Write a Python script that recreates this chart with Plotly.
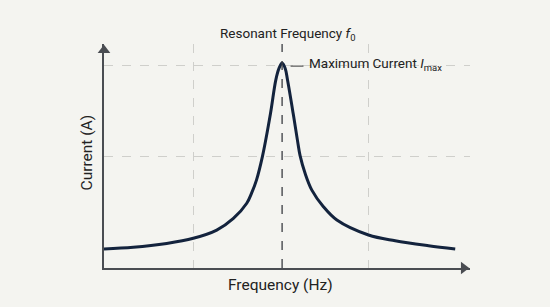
import plotly.graph_objects as go

# Data (frequency in arbitrary units, current normalized)
freq = [0.0, 0.329, 0.704, 1.003, 1.266, 1.453, 1.603, 1.656, 1.712, 1.780, 1.870, 1.929, 1.966, 2.0,
        2.034, 2.061, 2.124, 2.172, 2.202, 2.258, 2.334, 2.464, 2.615, 2.970, 3.270, 3.644, 3.944]
current = [0.093, 0.101, 0.120, 0.145, 0.185, 0.242, 0.316, 0.364, 0.429, 0.546, 0.755, 0.917, 0.975, 1.0,
           0.975, 0.917, 0.755, 0.624, 0.548, 0.462, 0.380, 0.299, 0.234, 0.161, 0.133, 0.109, 0.093]
f0 = 2.0
i_max = 1.0
x_grid = [1, 2.966]
y_grid = [0.546, 0.99]

XMAX = 4.11
YMAX = 1.093
PLOT_W = 550 - 104 - 80
PLOT_H = 307 - 44 - 39
axis_col = "#4a4d52"
bg = "#f4f4f0"
font_fam = "Roboto, Inter, sans-serif"

fig = go.Figure()
fig.add_trace(go.Scatter(x=freq, y=current, mode="lines",
                         line=dict(color="#13233d", width=3, shape="spline", smoothing=1.0),
                         hoverinfo="skip", showlegend=False))

# resonant frequency marker
fig.add_shape(type="line", x0=f0, x1=f0, y0=0, y1=1, xref="x", yref="paper",
              line=dict(color="#3a3d42", width=1.3, dash="dash"))

# arrowheads at the axis ends
tip_px = 6.3
fig.add_trace(go.Scatter(x=[XMAX - tip_px * XMAX / PLOT_W], y=[0], mode="markers", cliponaxis=False,
                         marker=dict(symbol="triangle-right", size=11, color=axis_col),
                         hoverinfo="skip", showlegend=False))
fig.add_trace(go.Scatter(x=[0], y=[YMAX - tip_px * YMAX / PLOT_H], mode="markers", cliponaxis=False,
                         marker=dict(symbol="triangle-up", size=11, color=axis_col),
                         hoverinfo="skip", showlegend=False))

# labels
fig.add_annotation(x=f0, y=1, xref="x", yref="paper", yshift=-1, xshift=5, yanchor="bottom", showarrow=False,
                   text="Resonant Frequency <i>f</i><sub>0</sub>",
                   font=dict(size=13.5, color="#222", family=font_fam))
fig.add_annotation(x=f0 + 0.28, y=i_max, xref="x", yref="y", xanchor="left", yanchor="middle",
                   yshift=-1, showarrow=False,
                   text="Maximum Current <i>I</i><sub>max</sub>",
                   font=dict(size=13.5, color="#222", family=font_fam))
fig.add_shape(type="line", x0=f0 + 0.095, x1=f0 + 0.24, y0=i_max * 0.985, y1=i_max * 0.985,
              xref="x", yref="y", line=dict(color="#555", width=1.2))

# axis titles
fig.add_annotation(x=0.481, y=0, xref="paper", yref="paper", yshift=-17, yanchor="middle",
                   showarrow=False, text="Frequency (Hz)",
                   font=dict(size=15.5, color="#222", family=font_fam))
fig.add_annotation(x=0, y=0.516, xref="paper", yref="paper", xshift=-17, xanchor="center",
                   yanchor="middle", textangle=-90, showarrow=False, text="Current (A)",
                   font=dict(size=15.5, color="#222", family=font_fam))

fig.update_layout(
    width=550, height=307,
    margin=dict(l=104, r=80, t=44, b=39),
    paper_bgcolor=bg, plot_bgcolor=bg,
    font=dict(family=font_fam, color="#222"),
    xaxis=dict(range=[0, XMAX], tickvals=x_grid, showticklabels=False, ticks="",
               showgrid=True, gridcolor="#cfcfcb", griddash="dash", gridwidth=1,
               zeroline=False, showline=True, linecolor=axis_col, linewidth=1.6),
    yaxis=dict(range=[0, YMAX], tickvals=y_grid, showticklabels=False, ticks="",
               showgrid=True, gridcolor="#cfcfcb", griddash="dash", gridwidth=1,
               zeroline=False, showline=True, linecolor=axis_col, linewidth=1.6),
)

fig.write_html("out.html")
